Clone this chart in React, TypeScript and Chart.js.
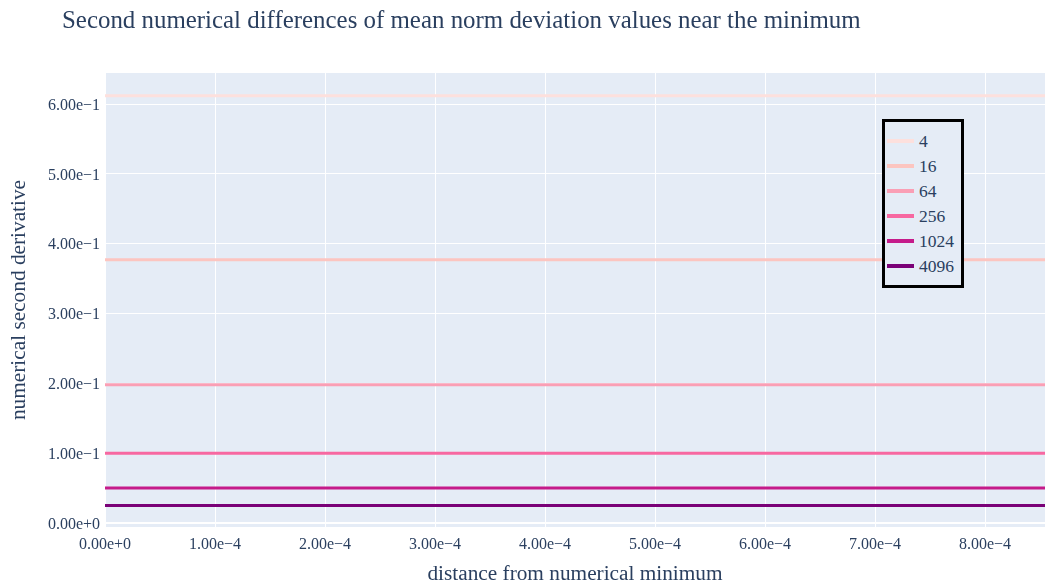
import React, { useEffect, useRef } from "react";
import { Chart, registerables } from "chart.js";

Chart.register(...registerables);

const distances = [0, 1e-4, 2e-4, 3e-4, 4e-4, 5e-4, 6e-4, 7e-4, 8e-4, 8.55e-4];
const seriesLabels = ["4", "16", "64", "256", "1024", "4096"];
const values4 = [0.612, 0.612, 0.612, 0.612, 0.612, 0.612, 0.612, 0.612, 0.612, 0.612];
const values16 = [0.377, 0.377, 0.377, 0.377, 0.377, 0.377, 0.377, 0.377, 0.377, 0.377];
const values64 = [0.198, 0.198, 0.198, 0.198, 0.198, 0.198, 0.198, 0.198, 0.198, 0.198];
const values256 = [0.1, 0.1, 0.1, 0.1, 0.1, 0.1, 0.1, 0.1, 0.1, 0.1];
const values1024 = [0.05, 0.05, 0.05, 0.05, 0.05, 0.05, 0.05, 0.05, 0.05, 0.05];
const values4096 = [0.025, 0.025, 0.025, 0.025, 0.025, 0.025, 0.025, 0.025, 0.025, 0.025];
const seriesValues = [values4, values16, values64, values256, values1024, values4096];
const seriesColors = ["#fde0dd", "#fcc5c0", "#fa9fb5", "#f768a1", "#c51b8a", "#7a0177"];

const TITLE = "Second numerical differences of mean norm deviation values near the minimum";
const X_TITLE = "distance from numerical minimum";
const Y_TITLE = "numerical second derivative";
const FONT = "'Liberation Serif', 'Times New Roman', serif";
const TEXT_COLOR = "#2a3f5f";

function fmt(v: number): string {
  if (Math.abs(v) < 1e-12) return "0.00e+0";
  return v.toExponential(2).replace("-", "\u2212");
}

const titlePlugin = {
  id: "customTitle",
  afterDraw(chart: any) {
    const ctx = chart.ctx;
    ctx.save();
    ctx.font = `24.9px ${FONT}`;
    ctx.fillStyle = TEXT_COLOR;
    ctx.textBaseline = "middle";
    ctx.textAlign = "left";
    ctx.fillText(TITLE, 62, 21);
    ctx.restore();
  },
};

export default function App() {
  const ref = useRef<HTMLCanvasElement | null>(null);

  useEffect(() => {
    document.body.style.margin = "0";
    if (!ref.current) return;
    const chart = new Chart(ref.current, {
      type: "line",
      data: {
        datasets: seriesLabels.map((label, i) => ({
          label,
          data: distances.map((x, j) => ({ x, y: seriesValues[i][j] })),
          borderColor: seriesColors[i],
          backgroundColor: seriesColors[i],
          borderWidth: 3,
          pointRadius: 0,
          fill: false,
        })),
      },
      options: {
        responsive: false,
        animation: false,
        maintainAspectRatio: false,
        layout: { padding: { top: 73, right: 0, left: 0, bottom: 0 } },
        plugins: {
          legend: { display: false },
          title: { display: false },
          tooltip: { enabled: false },
        },
        scales: {
          x: {
            type: "linear",
            min: 0,
            max: 8.545e-4,
            afterFit(scale: any) {
              scale.height = 56;
            },
            ticks: {
              stepSize: 1e-4,
              includeBounds: false,
              padding: 8,
              maxRotation: 0,
              autoSkip: false,
              color: TEXT_COLOR,
              font: { family: FONT, size: 16 },
              callback: (v: any) => fmt(Number(v)),
            },
            grid: {
              color: "#ffffff",
              lineWidth: (c: any) => (c.tick && Math.abs(c.tick.value) < 1e-12 ? 2 : 1),
              drawTicks: false,
            },
            border: { display: false },
            title: {
              display: true,
              text: X_TITLE,
              color: TEXT_COLOR,
              font: { family: FONT, size: 21.3 },
              padding: { top: 0, bottom: -4 },
            },
          },
          y: {
            type: "linear",
            min: -0.0058,
            max: 0.6447,
            afterFit(scale: any) {
              scale.width = 105;
            },
            ticks: {
              stepSize: 0.1,
              includeBounds: false,
              padding: 5,
              labelOffset: 1.5,
              autoSkip: false,
              color: TEXT_COLOR,
              font: { family: FONT, size: 16 },
              callback: (v: any) => fmt(Number(v)),
            },
            grid: {
              color: "#ffffff",
              lineWidth: (c: any) => (c.tick && Math.abs(c.tick.value) < 1e-12 ? 2 : 1),
              drawTicks: false,
            },
            border: { display: false },
            title: {
              display: true,
              text: Y_TITLE,
              color: TEXT_COLOR,
              font: { family: FONT, size: 21.3 },
              padding: { top: 7, bottom: 0 },
            },
          },
        },
      },
      plugins: [
        {
          id: "plotBg",
          beforeDraw(chart: any) {
            const { ctx, chartArea } = chart;
            ctx.save();
            ctx.fillStyle = "#e5ecf6";
            ctx.fillRect(chartArea.left, chartArea.top, chartArea.right - chartArea.left, chartArea.bottom - chartArea.top);
            ctx.restore();
          },
        },
        titlePlugin,
      ],
    } as any);
    return () => chart.destroy();
  }, []);

  return (
    <div style={{ position: "relative", width: 1045, height: 583, background: "#ffffff" }}>
      <canvas ref={ref} width={1045} height={583} style={{ display: "block" }} />
      <div
        style={{
          position: "absolute",
          left: 882,
          top: 119,
          width: 76,
          height: 163,
          border: "3px solid #000000",
          background: "#e5ecf6",
          boxSizing: "content-box",
        }}
      >
        {seriesLabels.map((label, i) => (
          <div
            key={label}
            style={{
              position: "absolute",
              left: 2,
              top: 8 + i * 25,
              height: 22,
              display: "flex",
              alignItems: "center",
              fontFamily: FONT,
              fontSize: 17.5,
              color: TEXT_COLOR,
            }}
          >
            <span style={{ display: "inline-block", width: 27, height: 4, background: seriesColors[i], marginRight: 5 }} />
            <span>{label}</span>
          </div>
        ))}
      </div>
    </div>
  );
}
